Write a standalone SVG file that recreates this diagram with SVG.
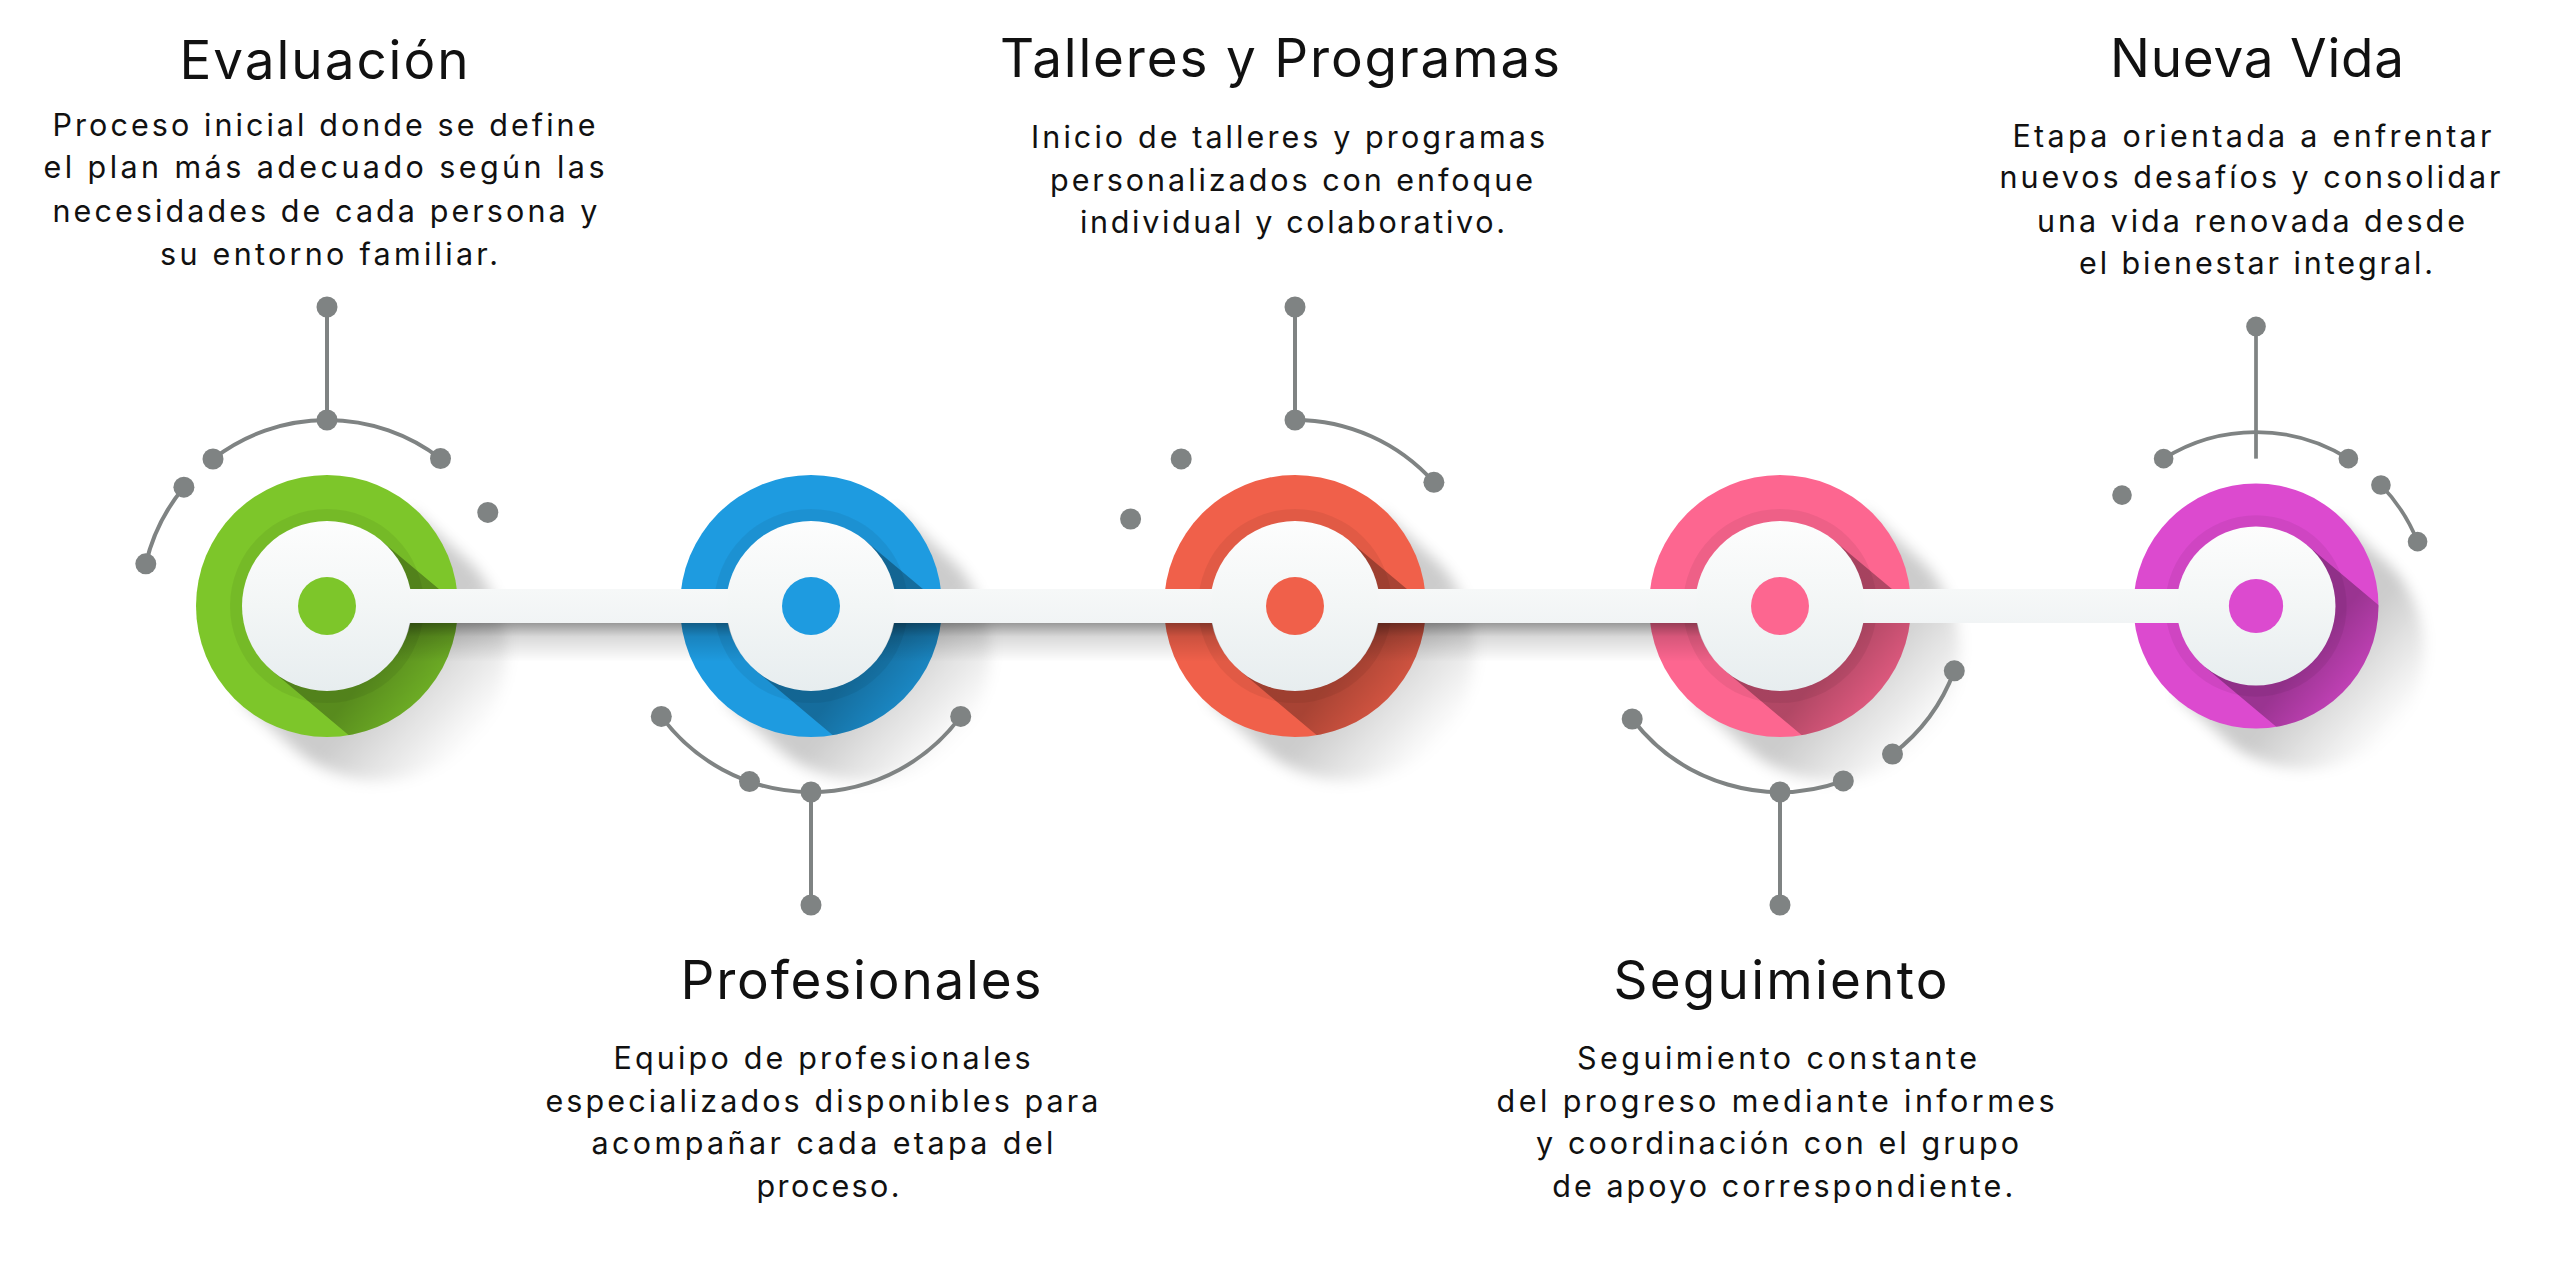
<svg xmlns="http://www.w3.org/2000/svg" xmlns:xlink="http://www.w3.org/1999/xlink" width="2560" height="1281" viewBox="0 0 2560 1281">
<style>
.t{font-family:Inter,"Liberation Sans",sans-serif;font-size:53px;fill:#111;text-anchor:middle}
.b{font-family:Inter,"Liberation Sans",sans-serif;font-size:30.5px;fill:#111;text-anchor:middle}
.deco{stroke:#7f8383;stroke-width:4;fill:none}
.dot{fill:#7f8383}
</style>
<defs>
<linearGradient id="wg" x1="0" y1="0" x2="0" y2="1">
<stop offset="0" stop-color="#fdfdfd"/><stop offset="0.5" stop-color="#f3f6f6"/><stop offset="1" stop-color="#e7edef"/>
</linearGradient>
<linearGradient id="barg" gradientUnits="userSpaceOnUse" x1="0" y1="589" x2="0" y2="623">
<stop offset="0" stop-color="#f6f8f8"/><stop offset="1" stop-color="#f1f4f5"/>
</linearGradient>
<linearGradient id="bsh" gradientUnits="userSpaceOnUse" x1="0" y1="623" x2="0" y2="662">
<stop offset="0" stop-color="#000" stop-opacity="0.4"/><stop offset="0.35" stop-color="#000" stop-opacity="0.15"/><stop offset="1" stop-color="#000" stop-opacity="0"/>
</linearGradient>
<linearGradient id="cast" gradientUnits="userSpaceOnUse" x1="75" y1="0" x2="175" y2="0">
<stop offset="0" stop-color="#000" stop-opacity="0.3"/><stop offset="1" stop-color="#000" stop-opacity="0"/>
</linearGradient>
<linearGradient id="gsh" gradientUnits="userSpaceOnUse" x1="95" y1="0" x2="200" y2="0">
<stop offset="0" stop-color="#000" stop-opacity="0.2"/><stop offset="1" stop-color="#000" stop-opacity="0"/>
</linearGradient>
<filter id="blur" x="-30%" y="-30%" width="160%" height="160%"><feGaussianBlur stdDeviation="7"/></filter>
<clipPath id="rc"><circle r="131"/></clipPath>
<g id="body">
<g transform="rotate(42)" filter="url(#blur)"><path d="M0,-128 L70,-128 A128 128 0 0 1 70,128 L0,128 Z" fill="url(#gsh)"/></g>
<circle r="131" fill="currentColor"/>
<g clip-path="url(#rc)"><g transform="rotate(40)"><path d="M0,-85 L175,-85 A85 85 0 0 1 175,85 L0,85 Z" fill="url(#cast)"/></g></g>
<circle r="97" fill="#000" opacity="0.06"/>
<circle r="85" fill="url(#wg)"/>
<circle r="29" fill="currentColor"/>
</g>
</defs>
<rect width="2560" height="1281" fill="#ffffff"/>

<g id="node-evaluacion">
<g transform="translate(327,606)">
<use xlink:href="#body" href="#body" color="#7DC62A"/>
<path class="deco" d="M0,-299 L0,-186"/>
<path class="deco" d="M-114,-147 A186 186 0 0 1 113.5,-147.4"/>
<path class="deco" d="M-143.1,-118.8 A186 186 0 0 0 -181.2,-42.2"/>
<circle class="dot" cx="0" cy="-299" r="10.5"/>
<circle class="dot" cx="0" cy="-186" r="10.5"/>
<circle class="dot" cx="-114" cy="-147" r="10.5"/>
<circle class="dot" cx="113.5" cy="-147.4" r="10.5"/>
<circle class="dot" cx="-143.1" cy="-118.8" r="10.5"/>
<circle class="dot" cx="-181.2" cy="-42.2" r="10.5"/>
<circle class="dot" cx="160.8" cy="-93.6" r="10.5"/>
</g>
<text class="t" x="324" y="79" textLength="289">Evaluación</text>
<text class="b" x="324" y="136" textLength="543">Proceso inicial donde se define</text>
<text class="b" x="324" y="178" textLength="561">el plan más adecuado según las</text>
<text class="b" x="325" y="222" textLength="545">necesidades de cada persona y</text>
<text class="b" x="329" y="265" textLength="338">su entorno familiar.</text>
</g>

<g id="node-profesionales">
<g transform="translate(811,606)">
<use xlink:href="#body" href="#body" color="#1E9BE0"/>
<path class="deco" d="M-149.7,110.4 A186 186 0 0 0 149.7,110.4"/>
<path class="deco" d="M0,186 L0,299"/>
<circle class="dot" cx="-149.7" cy="110.4" r="10.5"/>
<circle class="dot" cx="-61.5" cy="175.6" r="10.5"/>
<circle class="dot" cx="0" cy="186" r="10.5"/>
<circle class="dot" cx="149.7" cy="110.4" r="10.5"/>
<circle class="dot" cx="0" cy="299" r="10.5"/>
</g>
<text class="t" x="861" y="999" textLength="361">Profesionales</text>
<text class="b" x="822" y="1069" textLength="417">Equipo de profesionales</text>
<text class="b" x="822" y="1111.7" textLength="553">especializados disponibles para</text>
<text class="b" x="822.5" y="1154" textLength="462">acompañar cada etapa del</text>
<text class="b" x="828" y="1197.3" textLength="143">proceso.</text>
</g>

<g id="node-talleres">
<g transform="translate(1295,606)">
<use xlink:href="#body" href="#body" color="#F0604A"/>
<path class="deco" d="M0,-299 L0,-186"/>
<path class="deco" d="M0,-186 A186 186 0 0 1 138.9,-123.7"/>
<circle class="dot" cx="0" cy="-299" r="10.5"/>
<circle class="dot" cx="0" cy="-186" r="10.5"/>
<circle class="dot" cx="138.9" cy="-123.7" r="10.5"/>
<circle class="dot" cx="-113.8" cy="-147.1" r="10.5"/>
<circle class="dot" cx="-164.4" cy="-87" r="10.5"/>
</g>
<text class="t" x="1280" y="76.7" textLength="560">Talleres y Programas</text>
<text class="b" x="1288" y="148.3" textLength="514">Inicio de talleres y programas</text>
<text class="b" x="1291.5" y="190.7" textLength="483">personalizados con enfoque</text>
<text class="b" x="1292.5" y="232.7" textLength="425">individual y colaborativo.</text>
</g>

<g id="node-seguimiento">
<g transform="translate(1780,606)">
<use xlink:href="#body" href="#body" color="#FD6690"/>
<path class="deco" d="M-147.8,113 A186 186 0 0 0 63.3,174.9"/>
<path class="deco" d="M0,186 L0,299"/>
<path class="deco" d="M112.5,148.1 A186 186 0 0 0 174.3,64.8"/>
<circle class="dot" cx="-147.8" cy="113" r="10.5"/>
<circle class="dot" cx="0" cy="186" r="10.5"/>
<circle class="dot" cx="63.3" cy="174.9" r="10.5"/>
<circle class="dot" cx="0" cy="299" r="10.5"/>
<circle class="dot" cx="112.5" cy="148.1" r="10.5"/>
<circle class="dot" cx="174.3" cy="64.8" r="10.5"/>
</g>
<text class="t" x="1780.5" y="999" textLength="334">Seguimiento</text>
<text class="b" x="1777" y="1069" textLength="400">Seguimiento constante</text>
<text class="b" x="1775.6" y="1111.7" textLength="558">del progreso mediante informes</text>
<text class="b" x="1777.5" y="1154" textLength="483">y coordinación con el grupo</text>
<text class="b" x="1782.7" y="1197.3" textLength="461">de apoyo correspondiente.</text>
</g>

<g id="node-nueva-vida">
<g transform="translate(2256,606) scale(0.935)">
<use xlink:href="#body" href="#body" color="#DC4ACF"/>
<path class="deco" d="M0,-299 L0,-157.6"/>
<path class="deco" d="M-98.8,-157.6 A186 186 0 0 1 98.8,-157.6"/>
<path class="deco" d="M133.6,-129.4 A186 186 0 0 1 172.8,-68.8"/>
<circle class="dot" cx="0" cy="-299" r="10.5"/>
<circle class="dot" cx="-98.8" cy="-157.6" r="10.5"/>
<circle class="dot" cx="98.8" cy="-157.6" r="10.5"/>
<circle class="dot" cx="-143.3" cy="-118.6" r="10.5"/>
<circle class="dot" cx="133.6" cy="-129.4" r="10.5"/>
<circle class="dot" cx="172.8" cy="-68.8" r="10.5"/>
</g>
<text class="t" x="2257" y="76.7" textLength="294">Nueva Vida</text>
<text class="b" x="2252" y="146.7" textLength="479">Etapa orientada a enfrentar</text>
<text class="b" x="2250" y="188.3" textLength="501">nuevos desafíos y consolidar</text>
<text class="b" x="2251" y="231.7" textLength="428">una vida renovada desde</text>
<text class="b" x="2256" y="274" textLength="354">el bienestar integral.</text>
</g>

<g id="connectors">
<path fill="url(#bsh)" d="M409.77,623 L728.23,623 A84.5 84.5 0 0 0 746.85,661 L391.15,661 A84.5 84.5 0 0 0 409.77,623 Z"/>
<path fill="url(#bsh)" d="M893.77,623 L1212.23,623 A84.5 84.5 0 0 0 1230.85,661 L875.15,661 A84.5 84.5 0 0 0 893.77,623 Z"/>
<path fill="url(#bsh)" d="M1377.77,623 L1697.23,623 A84.5 84.5 0 0 0 1715.85,661 L1359.15,661 A84.5 84.5 0 0 0 1377.77,623 Z"/>
<path fill="url(#barg)" d="M408.75,589 L729.25,589 A83.5 83.5 0 0 0 729.25,623 L408.75,623 A83.5 83.5 0 0 0 408.75,589 Z"/>
<path fill="url(#barg)" d="M892.75,589 L1213.25,589 A83.5 83.5 0 0 0 1213.25,623 L892.75,623 A83.5 83.5 0 0 0 892.75,589 Z"/>
<path fill="url(#barg)" d="M1376.75,589 L1698.25,589 A83.5 83.5 0 0 0 1698.25,623 L1376.75,623 A83.5 83.5 0 0 0 1376.75,589 Z"/>
<path fill="url(#barg)" d="M1861.75,589 L2179.88,589 A78 78 0 0 0 2179.88,623 L1861.75,623 A83.5 83.5 0 0 0 1861.75,589 Z"/>
</g>
</svg>
